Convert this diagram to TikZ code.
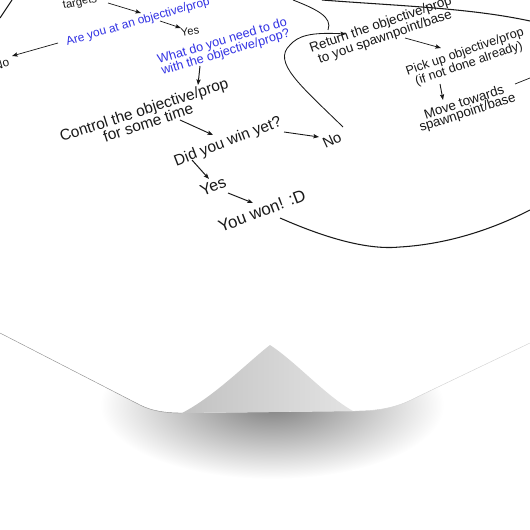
\documentclass[tikz,border=0pt]{standalone}
\usepackage{fontspec}
\setmainfont{Liberation Sans}
\usetikzlibrary{shapes,arrows.meta}
\definecolor{qblue}{RGB}{50,50,228}
\definecolor{ink}{RGB}{25,25,25}
\tikzset{flow/.style={text=ink, align=center, inner sep=0pt},
  ask/.style={flow, text=qblue},
  link/.style={->, line width=1pt, color=ink},
  curveline/.style={line width=1.5pt, color=ink}}
\newcommand{\fs}[1]{\fontsize{#1}{#1}\selectfont}
\begin{document}
\begin{tikzpicture}[x=0.05cm, y=-0.05cm, >={Stealth[length=8pt, width=6pt, inset=1.5pt]}]

\useasboundingbox (0,0) rectangle (530,530);
\clip (0,0) rectangle (530,530);

% shadow under the curled corner
\shade[inner color=black!50, outer color=white] (272,405) ellipse [x radius=172, y radius=74];

% the poster sheet
\fill[white] (0,0) -- (530,0) -- (530,343) -- (415,398)
  .. controls (398,407) and (380,411) .. (355,411) -- (182,413)
  .. controls (165,413) and (152,411) .. (140,405) -- (0,333) -- cycle;
\shade[left color=black!24, right color=black!11] (182,413)
  .. controls (215,396) and (248,362) .. (270,345)
  .. controls (296,362) and (326,396) .. (353,411) -- cycle;
\draw[black!45, line width=0.6pt] (0,333) -- (140,405) .. controls (152,411) and (165,413) .. (182,413);
\draw[black!18, line width=0.6pt] (530,343) -- (415,398) .. controls (398,407) and (380,411) .. (355,411);

% steps
\node[flow, rotate=12] (T) at (80,3) {\fs{16}targets};
\node[ask, rotate=16] (At) at (138,22) {\fs{17}Are you at an objective/prop};
\node[flow, rotate=8] (Y1) at (190,31) {\fs{16}Yes};
\node[flow, rotate=16, anchor=east] (N1) at (9,62) {\fs{17}No};
\node[ask, rotate=16.5] (What) at (224,47) {\fs{18}What do you need to do\\[-1pt]\fs{18}with the objective/prop?};
\node[flow, rotate=18] (Ctrl) at (146,116) {\fs{22}Control the objective/prop\\[-2pt]\fs{22}for some time};
\node[flow, rotate=21] (Win) at (228,142) {\fs{22}Did you win yet?};
\node[flow, rotate=25] (No) at (332,140) {\fs{21}No};
\node[flow, rotate=22] (Y2) at (213,186) {\fs{23}Yes};
\node[flow, rotate=21] (Won) at (262,211) {\fs{24}You won! :D};
\node[flow, rotate=19] (Ret) at (383,31) {\fs{19}Return the objective/prop\\[0pt]\fs{19}to you spawnpoint/base};
\node[flow, rotate=19] (Pick) at (467,58) {\fs{18}Pick up objective/prop\\[0pt]\fs{18}(if not done already)};
\node[flow, rotate=18] (Move) at (466,108) {\fs{19}Move towards\\[0pt]\fs{19}spawnpoint/base};

\coordinate (c1) at (108,3);
\coordinate (c2) at (141,13);
\coordinate (c3) at (160,21);
\coordinate (c4) at (181,28);
\coordinate (c5) at (58,43);
\coordinate (c6) at (12,56);
\coordinate (c7) at (200,66);
\coordinate (c8) at (198,85);
\coordinate (c9) at (180,120);
\coordinate (c10) at (213,135);
\coordinate (c11) at (284,132);
\coordinate (c12) at (319,137);
\coordinate (c13) at (192,160);
\coordinate (c14) at (209,179);
\coordinate (c15) at (228,193);
\coordinate (c16) at (253,203);
\coordinate (c17) at (346,34);
\coordinate (c18) at (405,38);
\coordinate (c19) at (441,48);
\coordinate (c20) at (440,84);
\coordinate (c21) at (443,100);
\coordinate (c22) at (343,127);
\coordinate (c23) at (280,218);

% arrows
\draw[link] (c1) -- (c2);
\draw[link] (c3) -- (c4);
\draw[link] (c5) -- (c6);
\draw[link, line width=1.4pt] (c7) -- (c8);
\draw[link, line width=1.3pt] (c9) -- (c10);
\draw[link, line width=1.3pt] (c11) -- (c12);
\draw[link, line width=1.4pt] (c13) -- (c14);
\draw[link, line width=1.4pt] (c15) -- (c16);
\draw[link] (c18) -- (c19);
\draw[link, line width=1.3pt] (c20) -- (c21);
\draw[link, line width=1.2pt] (c22) .. controls (300,85) and (272,62) .. (290,45)
  .. controls (298,36) and (310,32) .. (c17);
\draw[curveline, line width=1.2pt] (293,0) .. controls (316,9) and (333,17) .. (328,30);
\draw[curveline] (322,0) .. controls (400,6) and (470,8) .. (530,21);
\draw[curveline] (0,18) -- (12,0);
\draw[ink, line width=1pt] (515,84) -- (530,78);
\draw[curveline] (c23) .. controls (330,240) and (370,250) .. (400,247)
  .. controls (450,244) and (495,228) .. (530,210);

\end{tikzpicture}
\end{document}
